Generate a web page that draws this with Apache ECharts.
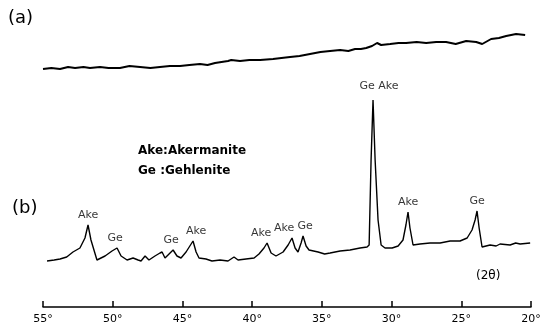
<!DOCTYPE html>
<html>
<head>
<meta charset="utf-8">
<script src="https://cdn.jsdelivr.net/npm/echarts@6/dist/echarts.min.js"></script>
<style>
  html, body { margin: 0; padding: 0; background: #fff; }
  #chart { width: 546px; height: 327px; }
</style>
</head>
<body>
<div id="chart"></div>
<script>
// 2θ (degrees) and intensity (arbitrary units) for pattern (a): amorphous, no peaks
const angleA = [55.0, 54.4, 53.78, 53.2, 52.70, 52.1, 51.63, 50.91, 50.3, 49.48, 48.8, 48.04, 47.3, 46.61, 45.9, 45.17, 44.5, 43.74, 43.2, 42.66, 42.2, 41.73, 41.5, 40.87, 40.2, 39.43, 38.50, 37.9, 37.28, 36.6, 35.85, 35.1, 34.41, 33.69, 33.1, 32.62, 32.2, 31.82, 31.4, 31.04, 30.75, 30.1, 29.5, 28.96, 28.2, 27.52, 26.8, 26.09, 25.4, 24.65, 23.93, 23.50, 22.86, 22.3, 21.78, 21.07, 20.42];
const intensityA = [238, 239, 238, 240, 239, 240, 239, 240, 239, 239, 241, 240, 239, 240, 241, 241, 242, 243, 242, 244, 245, 246, 247, 246, 247, 247, 248, 249, 250, 251, 253, 255, 256, 257, 256, 258, 258, 259, 261, 264, 262, 263, 264, 264, 265, 264, 265, 265, 263, 266, 265, 263, 268, 269, 271, 273, 272];

// Pattern (b): crystallised sample with akermanite / gehlenite reflections
const angleB = [54.71, 54.2, 53.78, 53.3, 52.85, 52.35, 51.99, 51.77, 51.56, 51.13, 50.55, 50.05, 49.69, 49.40, 48.97, 48.54, 48.18, 47.97, 47.68, 47.40, 46.97, 46.61, 46.46, 46.25, 45.96, 45.67, 45.39, 45.10, 44.74, 44.24, 44.02, 43.81, 43.31, 42.88, 42.30, 41.73, 41.30, 41.01, 40.44, 39.86, 39.51, 39.15, 38.93, 38.64, 38.29, 37.78, 37.42, 37.14, 36.92, 36.71, 36.49, 36.35, 36.13, 35.92, 35.27, 34.8, 34.41, 33.69, 32.98, 32.26, 31.76, 31.61, 31.47, 31.33, 31.18, 30.97, 30.75, 30.47, 29.96, 29.53, 29.18, 28.97, 28.82, 28.68, 28.46, 27.96, 27.24, 26.52, 25.80, 25.09, 24.58, 24.23, 24.01, 23.87, 23.72, 23.51, 22.93, 22.5, 22.22, 21.50, 21.1, 20.78, 20.06];
const intensityB = [46, 47, 48, 50, 55, 59, 69, 82, 67, 47, 51, 56, 59, 51, 47, 49, 47, 46, 51, 47, 51, 54, 55, 49, 53, 57, 51, 49, 55, 66, 55, 49, 48, 46, 47, 46, 50, 47, 48, 49, 53, 59, 64, 54, 51, 55, 62, 69, 59, 55, 64, 71, 61, 57, 55, 53, 54, 56, 57, 59, 60, 62, 147, 207, 147, 87, 62, 59, 59, 61, 67, 82, 95, 79, 62, 63, 64, 64, 66, 66, 69, 77, 87, 96, 79, 60, 62, 61, 63, 62, 64, 63, 64];

// Peak assignments drawn above pattern (b)
const peakNames = ['Ake', 'Ge', 'Ge', 'Ake', 'Ake', 'Ake', 'Ge', 'Ge Ake', 'Ake', 'Ge'];
const peakAngles = [51.77, 49.69, 45.67, 44.24, 38.93, 37.14, 36.35, 31.33, 28.82, 23.87];
const peakHeights = [82, 59, 57, 66, 64, 69, 71, 207, 95, 96];

const tickValues = [55, 50, 45, 40, 35, 30, 25, 20];
const legendLines = ['Ake:Akermanite', 'Ge :Gehlenite'];

const font = 'DejaVu Sans';
const pair = (xs, ys) => xs.map((x, i) => [x, ys[i]]);
const labelShift = {
  '49.69': [-2, 0], '45.67': [-2, 0], '44.24': [3, 0], '38.93': [-6, 0],
  '37.14': [-8, 0], '36.35': [2, 0], '31.33': [6, -4]
};

const chart = echarts.init(document.getElementById('chart'), null, { renderer: 'canvas' });
chart.setOption({
  backgroundColor: '#fff',
  animation: false,
  grid: { left: 43, right: 15, top: 7, bottom: 20 },
  xAxis: {
    type: 'value',
    inverse: true,
    min: 20,
    max: 55,
    interval: 5,
    axisLine: { lineStyle: { color: '#000', width: 1.5 } },
    axisTick: { inside: true, length: 6, lineStyle: { color: '#000', width: 1.5 } },
    axisLabel: {
      margin: 7,
      color: '#000',
      fontFamily: font,
      fontSize: 11,
      formatter: v => tickValues.includes(v) ? v + '°' : ''
    },
    splitLine: { show: false }
  },
  yAxis: { type: 'value', min: 0, max: 300, show: false },
  series: [
    {
      name: '(a)',
      type: 'line',
      data: pair(angleA, intensityA),
      showSymbol: false,
      lineStyle: { color: '#000', width: 2 }
    },
    {
      name: '(b)',
      type: 'line',
      data: pair(angleB, intensityB),
      showSymbol: false,
      lineStyle: { color: '#000', width: 1.4 }
    },
    {
      name: 'peaks',
      type: 'scatter',
      symbolSize: 0,
      data: peakAngles.map((a, i) => ({
        value: [a, peakHeights[i]],
        name: peakNames[i],
        label: { offset: labelShift[String(a)] || [0, 0] }
      })),
      label: {
        show: true,
        position: 'top',
        distance: 4,
        formatter: p => p.name,
        color: '#000',
        fontFamily: font,
        fontSize: 11
      }
    }
  ],
  graphic: [
    { type: 'text', left: 8, top: 9, style: { text: '(a)', font: '18px ' + font, fill: '#000' } },
    { type: 'text', left: 12, top: 199, style: { text: '(b)', font: '18px ' + font, fill: '#000' } },
    { type: 'text', left: 138, top: 145, style: { text: legendLines[0], font: 'bold 12px ' + font, fill: '#000' } },
    { type: 'text', left: 138, top: 165, style: { text: legendLines[1], font: 'bold 12px ' + font, fill: '#000' } },
    { type: 'text', left: 476, top: 270, style: { text: '(2θ)', font: '12px ' + font, fill: '#000' } }
  ]
});
</script>
</body>
</html>
